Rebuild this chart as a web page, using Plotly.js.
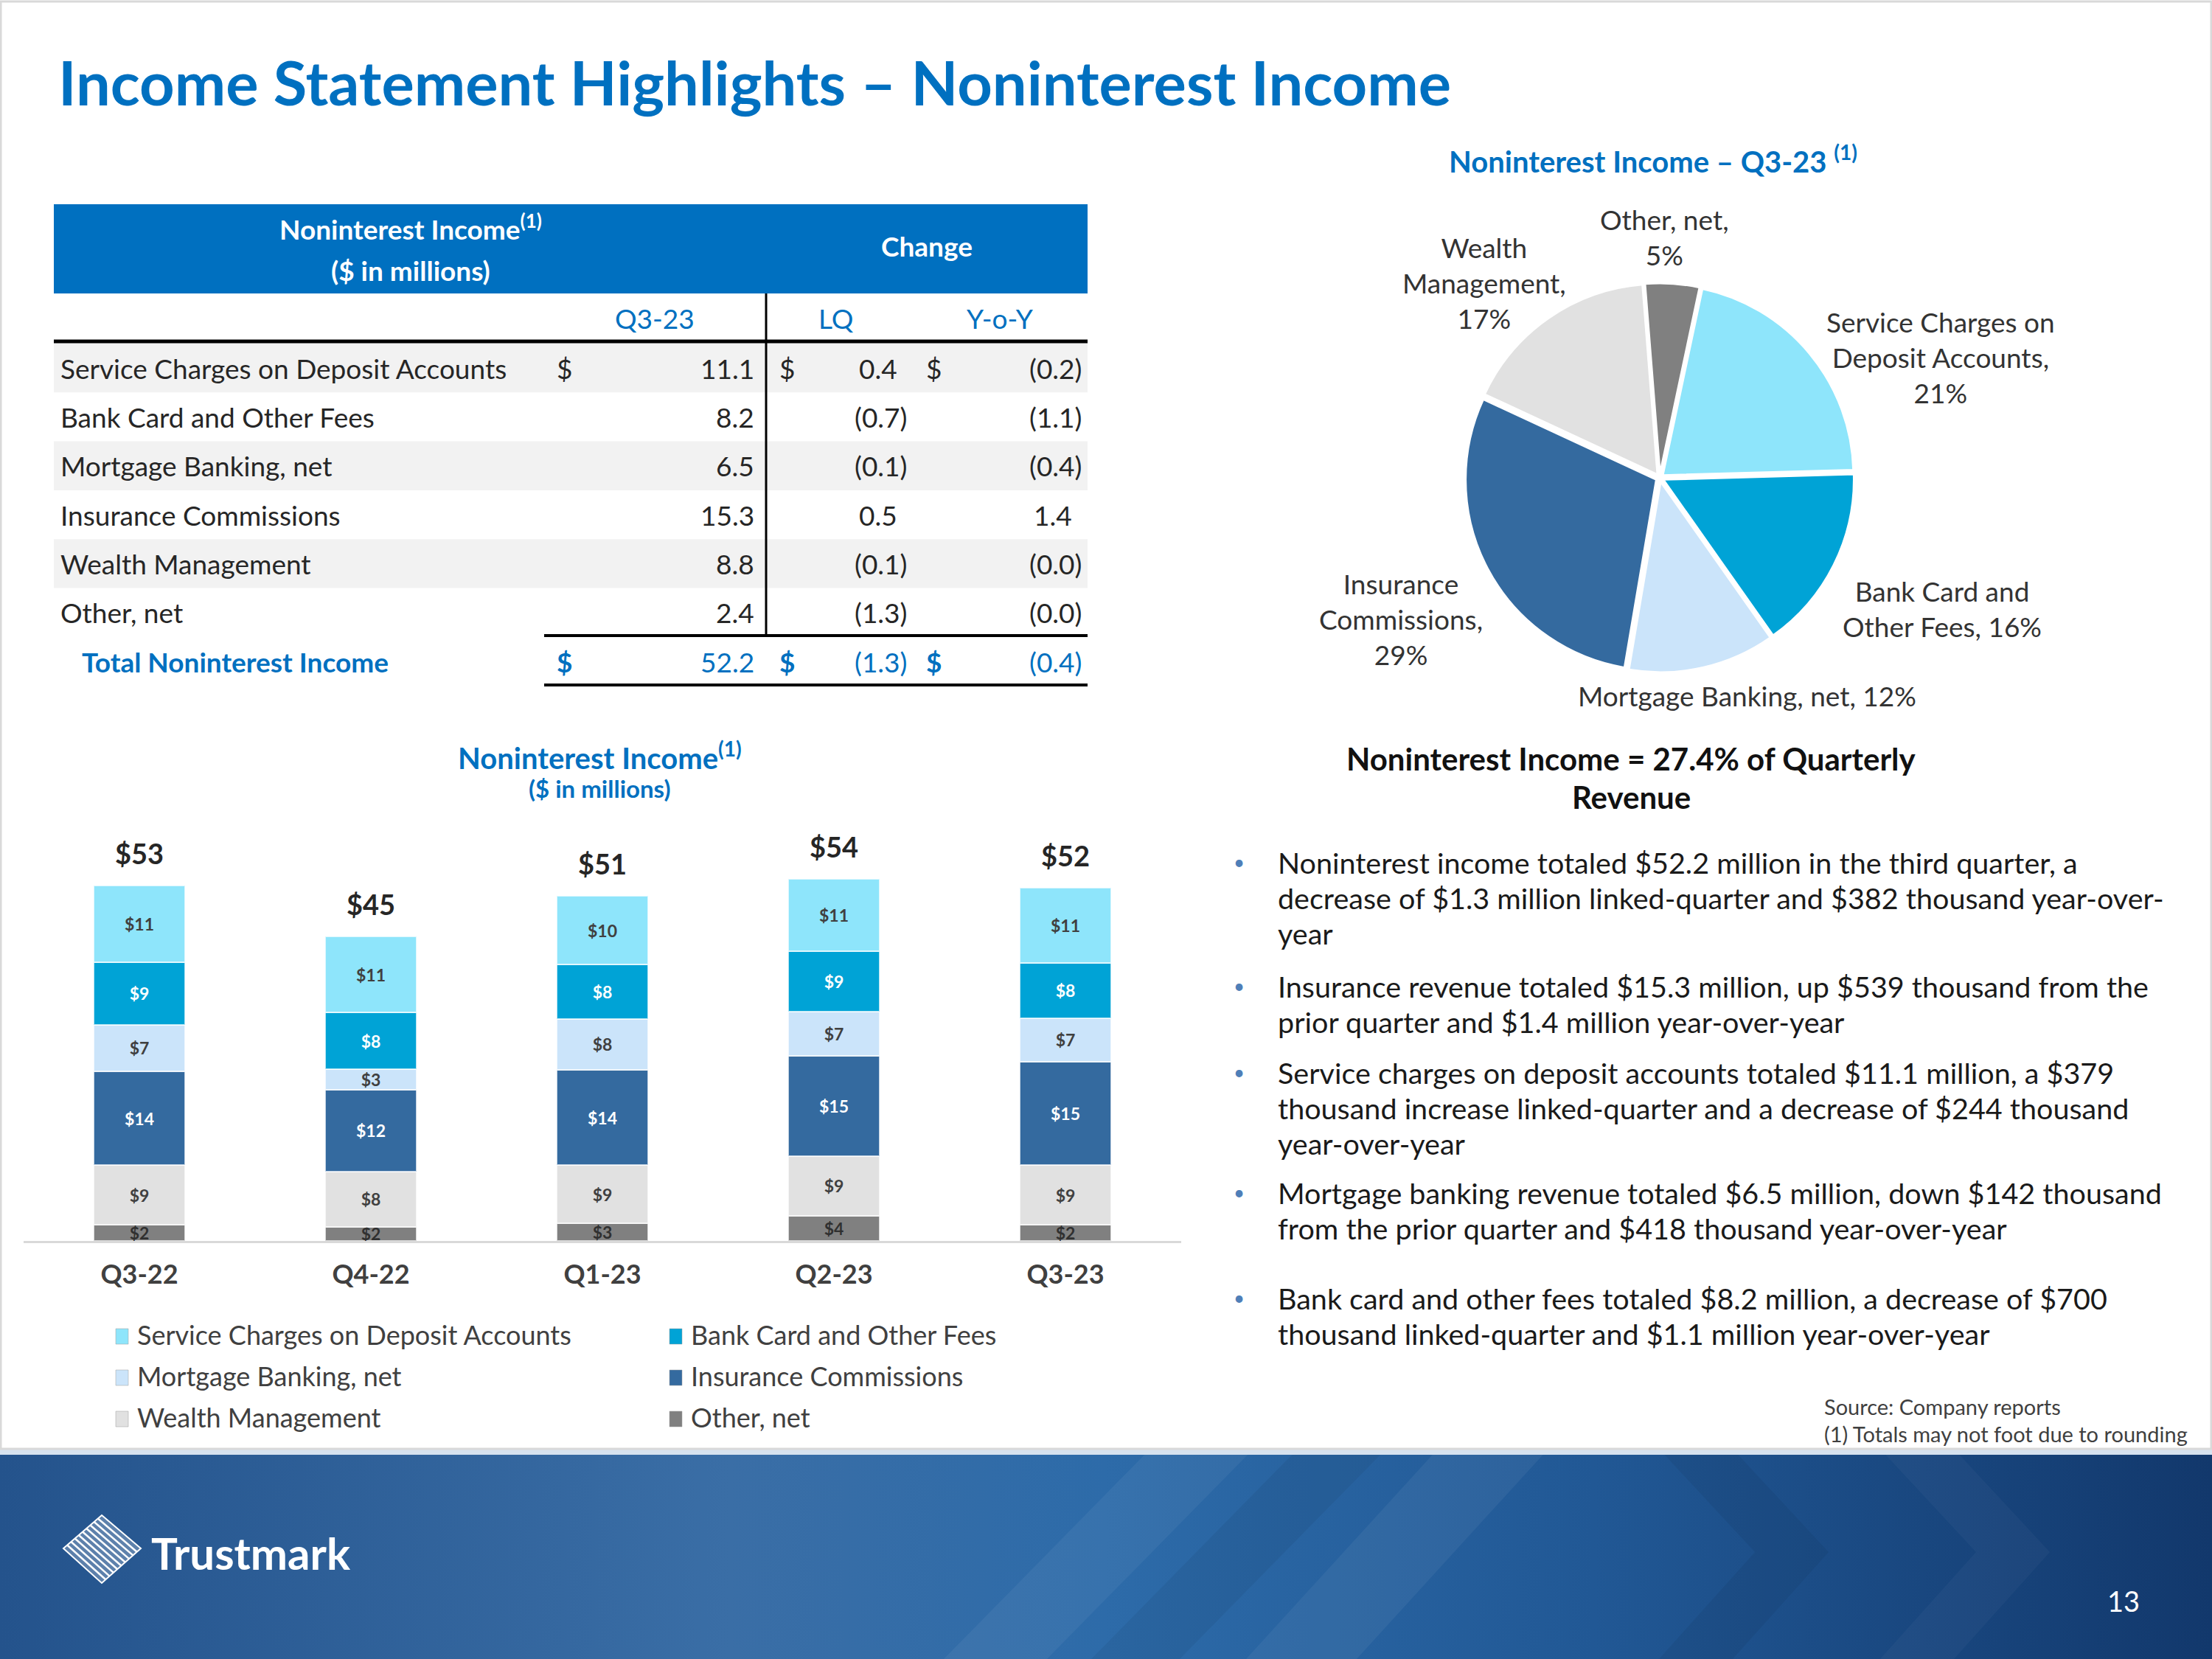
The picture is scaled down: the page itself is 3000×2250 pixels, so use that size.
<!DOCTYPE html>
<html>
<head>
<meta charset="utf-8">
<script src="https://cdn.plot.ly/plotly-3.0.1.min.js"></script>
<style>html,body{margin:0;padding:0;background:#fff;}#chart{width:3000px;height:2250px;}</style>
</head>
<body>
<div id="chart"></div>
<script>
// ---------------- DATA ----------------
const quarters = ['Q3-22', 'Q4-22', 'Q1-23', 'Q2-23', 'Q3-23'];
const serviceCharges = [11.3, 11.3, 10.2, 10.7, 11.1];
const bankCard = [9.3, 8.4, 8.0, 8.9, 8.2];
const mortgage = [6.9, 3.0, 7.6, 6.6, 6.5];
const insurance = [13.9, 12.1, 14.1, 14.8, 15.3];
const wealth = [8.8, 8.2, 8.6, 8.9, 8.8];
const otherNet = [2.4, 2.1, 2.6, 3.7, 2.4];

const seriesNames = ['Service Charges on Deposit Accounts', 'Bank Card and Other Fees', 'Mortgage Banking, net',
  'Insurance Commissions', 'Wealth Management', 'Other, net'];

const tableRows = ['Service Charges on Deposit Accounts', 'Bank Card and Other Fees', 'Mortgage Banking, net',
  'Insurance Commissions', 'Wealth Management', 'Other, net'];
const tableQ323 = [11.1, 8.2, 6.5, 15.3, 8.8, 2.4];
const tableLQ = [0.4, -0.7, -0.1, 0.5, -0.1, -1.3];
const tableYoY = [-0.2, -1.1, -0.4, 1.4, -0.04, -0.04];
const totalLabel = 'Total Noninterest Income';
const totalQ323 = 52.2, totalLQ = -1.3, totalYoY = -0.4;

const pieNames = ['Service Charges on<br>Deposit Accounts,', 'Bank Card and<br>Other Fees,', 'Mortgage Banking, net,',
  'Insurance<br>Commissions,', 'Wealth<br>Management,', 'Other, net,'];
const pieSep = ['<br>', ' ', ' ', '<br>', '<br>', '<br>'];

const bullets = [
  ['Noninterest income totaled $52.2 million in the third quarter, a', 'decrease of $1.3 million linked-quarter and $382 thousand year-over-', 'year'],
  ['Insurance revenue totaled $15.3 million, up $539 thousand from the', 'prior quarter and $1.4 million year-over-year'],
  ['Service charges on deposit accounts totaled $11.1 million, a $379', 'thousand increase linked-quarter and a decrease of $244 thousand', 'year-over-year'],
  ['Mortgage banking revenue totaled $6.5 million, down $142 thousand', 'from the prior quarter and $418 thousand year-over-year'],
  ['Bank card and other fees totaled $8.2 million, a decrease of $700', 'thousand linked-quarter and $1.1 million year-over-year']
];

// ---------------- STYLE / HELPERS ----------------
const W = 3000, H = 2250;
const X = p => p / W;
const Y = p => 1 - p / H;
const FONT = 'Lato, "Open Sans", sans-serif';
const BLUE = '#0070C0';
const TXT = '#262626';
const colors = {
  service: '#8EE5FB', bank: '#00A3D6', mortgage: '#CBE4FA',
  insurance: '#346A9F', wealth: '#E1E1E1', other: '#808080'
};
const sliceColors = [colors.service, colors.bank, colors.mortgage, colors.insurance, colors.wealth, colors.other];

const annotations = [];
const shapes = [];
function ann(text, x, y, o) {
  o = o || {};
  annotations.push({
    text: text, x: X(x), y: Y(y), xref: 'paper', yref: 'paper', showarrow: false,
    xanchor: o.xanchor || 'center', yanchor: o.yanchor || 'middle', align: o.align || 'center',
    font: {family: FONT, size: o.size || 34, color: o.color || TXT, weight: o.weight || 400}
  });
}
function rect(x0, y0, x1, y1, fill, layer) {
  shapes.push({type: 'rect', xref: 'paper', yref: 'paper', x0: X(x0), x1: X(x1), y0: Y(y0), y1: Y(y1),
    fillcolor: fill, line: {width: 0}, layer: layer || 'below'});
}
function line(x0, y0, x1, y1, color, width) {
  shapes.push({type: 'line', xref: 'paper', yref: 'paper', x0: X(x0), x1: X(x1), y0: Y(y0), y1: Y(y1),
    line: {color: color, width: width}, layer: 'above'});
}
const fmt = v => v < 0 ? '(' + Math.abs(v).toFixed(1) + ')' : v.toFixed(1);

// ---------------- TITLE ----------------
ann('Income Statement Highlights – Noninterest Income', 77, 111, {xanchor: 'left', size: 83, color: BLUE, weight: 700});

// ---------------- TABLE ----------------
const TF = 37;
rect(73, 277, 1475, 398, BLUE);
ann('Noninterest Income<sup>(1)</sup>', 557, 308, {size: TF, color: '#FFFFFF', weight: 700});
ann('($ in millions)', 557, 367, {size: TF, color: '#FFFFFF', weight: 700});
ann('Change', 1257, 333, {size: TF, color: '#FFFFFF', weight: 700});
ann('Q3-23', 888, 432, {size: TF, color: BLUE});
ann('LQ', 1134, 432, {size: TF, color: BLUE});
ann('Y-o-Y', 1356, 432, {size: TF, color: BLUE});
line(73, 463, 1475, 463, '#000000', 5);
const rowTop = 466, rowH = 66.3;
tableRows.forEach((r, i) => {
  const yc = rowTop + rowH * (i + 0.5);
  if (i % 2 === 0) rect(73, rowTop + rowH * i, 1475, rowTop + rowH * (i + 1), '#F2F2F2');
  ann(r, 80, yc, {xanchor: 'left', size: TF});
  if (i === 0) {
    ann('$', 765, yc, {size: TF});
    ann('$', 1067, yc, {size: TF});
    ann('$', 1266, yc, {size: TF});
  }
  ann(fmt(tableQ323[i]), 1025, yc, {xanchor: 'right', size: TF});
  ann(fmt(tableLQ[i]), tableLQ[i] < 0 ? 1232 : 1219, yc, {xanchor: 'right', size: TF});
  ann(fmt(tableYoY[i]), tableYoY[i] < 0 ? 1469 : 1456, yc, {xanchor: 'right', size: TF});
});
line(1039, 398, 1039, 862, '#000000', 3);
line(738, 862, 1475, 862, '#000000', 4);
line(738, 929, 1475, 929, '#000000', 4);
const ty = 897;
ann(totalLabel, 109, ty, {xanchor: 'left', size: TF, color: BLUE, weight: 700});
ann('$', 765, ty, {size: TF, color: BLUE, weight: 700});
ann(fmt(totalQ323), 1025, ty, {xanchor: 'right', size: TF, color: BLUE});
ann('$', 1067, ty, {size: TF, color: BLUE, weight: 700});
ann(fmt(totalLQ), 1232, ty, {xanchor: 'right', size: TF, color: BLUE});
ann('$', 1266, ty, {size: TF, color: BLUE, weight: 700});
ann(fmt(totalYoY), 1469, ty, {xanchor: 'right', size: TF, color: BLUE});

// ---------------- PIE ----------------
ann('Noninterest Income – Q3-23 <sup>(1)</sup>', 2242, 216, {size: 40, color: BLUE, weight: 700});
const pieSum = tableQ323.reduce((a, b) => a + b, 0);
const pieLabelPos = [[2632, 484], [2634, 825], [2369, 943], [1900, 840], [2013, 383], [2257, 322]];
tableQ323.forEach((v, i) => {
  const pct = Math.round(v / pieSum * 100);
  ann(pieNames[i] + pieSep[i] + pct + '%', pieLabelPos[i][0], pieLabelPos[i][1], {size: 37, color: '#333333'});
});
const pcx = 2251, pcy = 648, pr = 264;

ann('Noninterest Income = 27.4% of Quarterly', 2212, 1029, {size: 42, color: '#111111', weight: 700});
ann('Revenue', 2212, 1081, {size: 42, color: '#111111', weight: 700});

// ---------------- BULLETS ----------------
const bulletY = [1169, 1337, 1454, 1617, 1760];
bullets.forEach((lines, b) => {
  ann('•', 1680, bulletY[b], {size: 26, color: '#4F7FB8'});
  lines.forEach((t, k) => ann(t, 1731, bulletY[b] + 48 * k, {xanchor: 'left', size: 39.5, color: '#1A1A1A'}));
});
ann('Source: Company reports', 2472, 1907, {xanchor: 'left', size: 29, color: '#404040'});
ann('(1) Totals may not foot due to rounding', 2472, 1944, {xanchor: 'left', size: 29, color: '#404040'});

// ---------------- BAR CHART TITLE ----------------
ann('Noninterest Income<sup>(1)</sup>', 813, 1025, {size: 40, color: BLUE, weight: 700});
ann('($ in millions)', 813, 1069, {size: 33, color: BLUE, weight: 700});

// totals above bars
const totals = quarters.map((q, i) => serviceCharges[i] + bankCard[i] + mortgage[i] + insurance[i] + wealth[i] + otherNet[i]);
totals.forEach((t, i) => {
  annotations.push({text: '$' + Math.round(t), x: quarters[i], y: t, xref: 'x', yref: 'y', showarrow: false,
    yanchor: 'middle', yshift: 44, font: {family: FONT, size: 38, color: TXT, weight: 700}});
});

// ---------------- LEGEND (two columns, row-wise) ----------------
const legendColors = [colors.service, colors.bank, colors.mortgage, colors.insurance, colors.wealth, colors.other];
const legendCols = [[157, 184], [908, 935]];
const legendRows = [1810, 1866, 1922];
seriesNames.forEach((n, i) => {
  const c = legendCols[i % 2], r = legendRows[Math.floor(i / 2)];
  shapes.push({type: 'rect', xref: 'paper', yref: 'paper', x0: X(c[0]), x1: X(c[0] + 17), y0: Y(r + 13), y1: Y(r - 8),
    fillcolor: legendColors[i], line: {color: 'rgba(160,160,160,0.5)', width: 1}, layer: 'above'});
  ann(n, c[1], r, {xanchor: 'left', size: 36, color: '#404040'});
});

// ---------------- FOOTER ----------------
const footerSvg = "<svg xmlns='http://www.w3.org/2000/svg' width='3000' height='285' viewBox='0 0 3000 285' preserveAspectRatio='none'>" +
  "<defs><linearGradient id='g' x1='0' y1='0' x2='1' y2='0'>" +
  "<stop offset='0' stop-color='#24538C'/><stop offset='0.33' stop-color='#3A6EA6'/>" +
  "<stop offset='0.5' stop-color='#2D6BA9'/><stop offset='0.72' stop-color='#215895'/>" +
  "<stop offset='1' stop-color='#12386C'/></linearGradient></defs>" +
  "<rect width='3000' height='285' fill='url(#g)'/>" +
  "<polygon points='1560,0 1700,0 1420,285 1280,285' fill='#ffffff' fill-opacity='0.05'/>" +
  "<polygon points='1760,0 1880,0 1600,285 1480,285' fill='#000000' fill-opacity='0.05'/>" +
  "<polygon points='1950,0 2100,0 1840,285 1690,285' fill='#ffffff' fill-opacity='0.05'/>" +
  "<polygon points='2250,0 2350,0 2480,140 2350,285 2250,285 2380,140' fill='#000000' fill-opacity='0.05'/>" +
  "<polygon points='2550,0 2650,0 2780,140 2650,285 2550,285 2680,140' fill='#ffffff' fill-opacity='0.03'/>" +
  "<rect y='0' width='3000' height='8' fill='#D6E2EF'/></svg>";

// logo diamond
const T = [138, 2055], R = [191, 2100], B = [138, 2147], L = [86, 2100];
shapes.push({type: 'path', xref: 'paper', yref: 'paper', layer: 'above',
  path: `M ${X(T[0])} ${Y(T[1])} L ${X(R[0])} ${Y(R[1])} L ${X(B[0])} ${Y(B[1])} L ${X(L[0])} ${Y(L[1])} Z`,
  fillcolor: 'rgba(255,255,255,0.25)', line: {color: '#FFFFFF', width: 2}});
for (let k = 1; k < 10; k++) {
  const t = k / 10;
  const p0 = [L[0] + t * (T[0] - L[0]), L[1] + t * (T[1] - L[1])];
  const p1 = [B[0] + t * (R[0] - B[0]), B[1] + t * (R[1] - B[1])];
  line(p0[0], p0[1], p1[0], p1[1], '#FFFFFF', 2.5);
}
ann('Trustmark', 203, 2106, {xanchor: 'left', size: 60, color: '#FFFFFF', weight: 700});
ann('13', 2880, 2171, {size: 38, color: '#FFFFFF'});

// slide border
shapes.push({type: 'rect', xref: 'paper', yref: 'paper', x0: X(1), x1: X(2999), y0: Y(1965), y1: Y(2),
  line: {color: '#D9D9D9', width: 3}, fillcolor: 'rgba(0,0,0,0)', layer: 'below'});

// ---------------- TRACES ----------------
function barTrace(name, vals, color, textColor) {
  return {
    type: 'bar', name: name, x: quarters, y: vals, showlegend: false,
    marker: {color: color, line: {color: 'rgba(255,255,255,0.7)', width: 2}},
    text: vals.map(v => '$' + Math.round(v)), textposition: 'inside', insidetextanchor: 'middle',
    textangle: 0, constraintext: 'none', cliponaxis: false,
    textfont: {family: FONT, size: 23, color: textColor, weight: 700},
    hoverinfo: 'skip'
  };
}
const traces = [
  barTrace(seriesNames[5], otherNet, colors.other, '#303030'),
  barTrace(seriesNames[4], wealth, colors.wealth, '#404040'),
  barTrace(seriesNames[3], insurance, colors.insurance, '#FFFFFF'),
  barTrace(seriesNames[2], mortgage, colors.mortgage, '#404040'),
  barTrace(seriesNames[1], bankCard, colors.bank, '#FFFFFF'),
  barTrace(seriesNames[0], serviceCharges, colors.service, '#404040'),
  {
    type: 'pie', labels: tableRows, values: tableQ323, sort: false, direction: 'clockwise', rotation: 12,
    textinfo: 'none', textposition: 'none', hoverinfo: 'skip', showlegend: false,
    marker: {colors: sliceColors, line: {color: '#FFFFFF', width: 3}},
    pull: 0.02,
    domain: {x: [X(pcx - pr), X(pcx + pr)], y: [Y(pcy + pr), Y(pcy - pr)]}
  }
];

const layout = {
  width: W, height: H, margin: {l: 0, r: 0, t: 0, b: 0},
  paper_bgcolor: '#FFFFFF', plot_bgcolor: 'rgba(0,0,0,0)',
  barmode: 'stack', bargap: 0.605, showlegend: false,
  uniformtext: {mode: 'show', minsize: 23},
  xaxis: {domain: [X(32), X(1602)], type: 'category', showgrid: false, zeroline: false,
    showline: true, linecolor: '#D9D9D9', linewidth: 3, ticks: '', ticklabelstandoff: 12,
    tickfont: {family: FONT, size: 36, color: '#404040', weight: 700}, fixedrange: true},
  yaxis: {domain: [Y(1683), Y(1683) + 549.6 / H], range: [0, 60], visible: false, fixedrange: true},
  images: [{source: 'data:image/svg+xml;charset=utf-8,' + encodeURIComponent(footerSvg),
    xref: 'paper', yref: 'paper', x: 0, y: Y(1965), sizex: 1, sizey: (H - 1965) / H,
    xanchor: 'left', yanchor: 'top', sizing: 'stretch', layer: 'below'}],
  shapes: shapes, annotations: annotations
};

Plotly.newPlot('chart', traces, layout, {staticPlot: true, typesetMath: false});
</script>
</body>
</html>
